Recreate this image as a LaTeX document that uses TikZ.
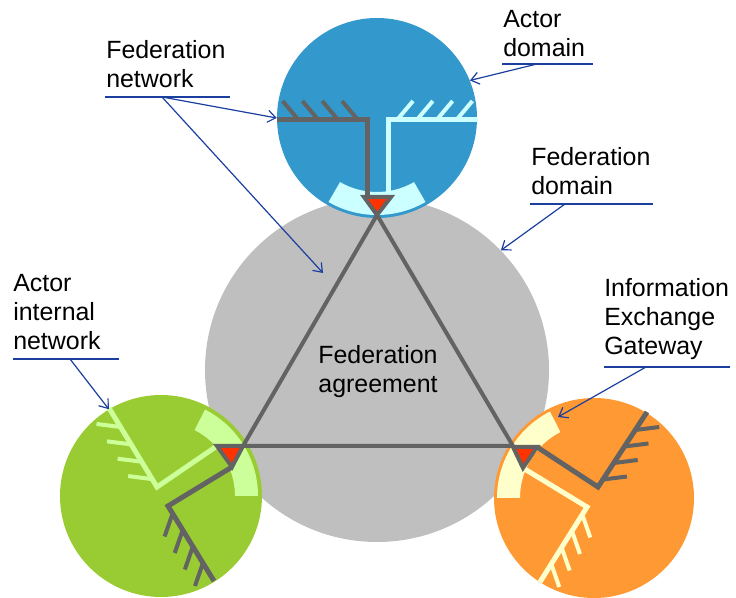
\documentclass[tikz,border=0pt]{standalone}
\usepackage{fontspec}
\setmainfont{Liberation Sans}
\usepackage{tikz}
\usetikzlibrary{calc,arrows.meta}

\definecolor{fedgray}{HTML}{BFBFBF}
\definecolor{actblue}{HTML}{3399CC}
\definecolor{actgreen}{HTML}{99CC33}
\definecolor{actorange}{HTML}{FF9933}
\definecolor{lightcyan}{HTML}{CCFFFF}
\definecolor{lightgreen}{HTML}{CCFF99}
\definecolor{lightyellow}{HTML}{FFFFCC}
\definecolor{netgray}{HTML}{636363}
\definecolor{markred}{HTML}{FF3300}
\definecolor{callblue}{HTML}{1A3F9E}

\begin{document}
\begin{tikzpicture}[x=0.75pt,y=-0.75pt,
    disc/.style={circle,inner sep=0pt,draw=none,minimum size=#1},
    fedline/.style={draw=netgray,line width=3pt},
    netline/.style={line width=3.75pt},
    hatchline/.style={line width=3pt},
    gwmark/.style={fill=markred,draw=netgray,line width=3pt},
    tag/.style={anchor=base west,align=left,inner sep=0pt,
      font=\fontsize{18.7}{21.75}\selectfont},
    underline/.style={draw=callblue,line width=0.9pt},
    callout/.style={draw=callblue,line width=0.9pt,
      -{Straight Barb[length=6pt,width=9pt]}}]
      \useasboundingbox (0,0) rectangle (736,598);

      % domains
      \node[disc=258pt,fill=fedgray] (fedDom) at (377,370) {};
      \node[disc=150pt,fill=actblue] (actTop) at (377,118) {};
      \node[disc=151.5pt,fill=actgreen] (actLeft) at (161,496) {};
      \node[disc=150pt,fill=actorange] (actRight) at (594,498) {};

      % gateway bands
      \fill[lightcyan] ([shift={(60:97)}]actTop.center) arc[start angle=60,end angle=120,radius=97]
        -- ([shift={(120:74)}]actTop.center) arc[start angle=120,end angle=60,radius=74] -- cycle;
      \fill[lightgreen] ([shift={(-63:97)}]actLeft.center) arc[start angle=-63,end angle=0,radius=97]
        -- ([shift={(0:74)}]actLeft.center) arc[start angle=0,end angle=-63,radius=74] -- cycle;
      \fill[lightyellow] ([shift={(180:97)}]actRight.center) arc[start angle=180,end angle=243,radius=97]
        -- ([shift={(243:74)}]actRight.center) arc[start angle=243,end angle=180,radius=74] -- cycle;

      % federation network
      \coordinate (apex) at (377,215);
      \coordinate (vleft) at (243,446);
      \coordinate (vright) at (513,446);
      \draw[fedline] (apex) -- (vleft) -- (vright) -- cycle;

      % actor networks
      \draw[netline,netgray] (367,197) -- (367,120) coordinate (tdC) -- (277,120) coordinate (tdE);
      \draw[netline,lightcyan] (388,197) -- (388,120) coordinate (tcC) -- (478,120) coordinate (tcE);
      \draw[netline,lightgreen] (217,446) -- (157,487) coordinate (lgC) -- (109,408) coordinate (lgE);
      \draw[netline,netgray] (232,467) -- (168,506) coordinate (ldC) -- (214,581) coordinate (ldE);
      \draw[netline,netgray] (537,447) -- (598,487) coordinate (rdC) -- (647,412) coordinate (rdE);
      \draw[netline,lightyellow] (523,468) -- (587,507) coordinate (ryC) -- (540,582) coordinate (ryE);

      \foreach \t in {0.1,0.32,0.54,0.76} {
        \draw[hatchline,netgray] ($(tdC)!\t!(tdE)$) -- ++(-16,-19);
        \draw[hatchline,lightcyan] ($(tcC)!\t!(tcE)$) -- ++(16,-19);
        \draw[hatchline,lightgreen] ($(lgC)!\t!(lgE)$) -- ++(-24,-3);
        \draw[hatchline,netgray] ($(ldC)!\t!(ldE)$) -- ++(-8,23);
        \draw[hatchline,netgray] ($(rdC)!\t!(rdE)$) -- ++(24,-3);
        \draw[hatchline,lightyellow] ($(ryC)!\t!(ryE)$) -- ++(8,23);
      }

      % gateways
      \filldraw[gwmark] (364,197) -- (391,197) -- (377,215) -- cycle;
      \filldraw[gwmark] (217,446) -- (243,446) -- (232,467) -- cycle;
      \filldraw[gwmark] (513,447) -- (537,447) -- (523,468) -- cycle;

      % labels (placed on the baseline of their last line)
      \node[tag] (fednet) at (106,88) {Federation\\network};
      \node[tag] (actdom) at (503,57) {Actor\\domain};
      \node[tag] (feddom) at (531,195) {Federation\\domain};
      \node[tag] (intnet) at (13,350) {Actor\\internal\\network};
      \node[tag] (ieg) at (604,355) {Information\\Exchange\\Gateway};
      \node[tag,anchor=base,align=center] (agree) at (378,393) {Federation\\agreement};

      % callouts
      \coordinate (fnA) at (162,97);
      \coordinate (fnB) at (323,273);
      \coordinate (adA) at (537,64);
      \coordinate (fdA) at (565,204);
      \coordinate (inA) at (70,359);
      \coordinate (igA) at (646,367);
      \coordinate (igB) at (558,417);

      \draw[underline] (105,97) -- (230,97);
      \draw[callout] (fnA) -- (actTop.west);
      \draw[callout] (fnA) -- (fnB);
      \draw[underline] (502,64) -- (593,64);
      \draw[callout] (adA) -- (actTop.22);
      \draw[underline] (530,204) -- (653,204);
      \draw[callout] (fdA) -- (fedDom.44);
      \draw[underline] (13,359) -- (119,359);
      \draw[callout] (inA) -- (actLeft.121);
      \draw[underline] (604,367) -- (730,367);
      \draw[callout] (igA) -- (igB);
    \end{tikzpicture}
\end{document}
